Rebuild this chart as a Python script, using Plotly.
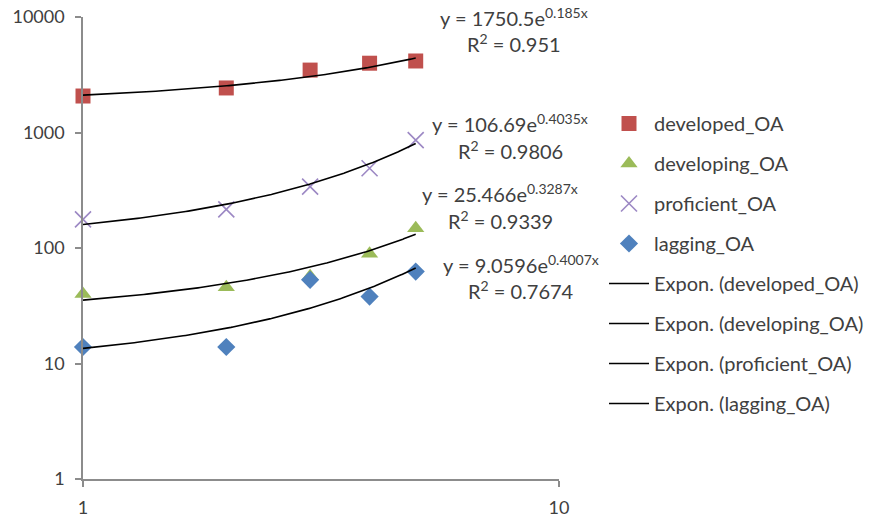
import numpy as np
import plotly.graph_objects as go

x_vals = [1, 2, 3, 4, 5]
developed_OA = [2070, 2430, 3470, 3980, 4160]
developing_OA = [40, 45.7, 57, 89, 148]
proficient_OA = [177, 216, 340, 490, 860]
lagging_OA = [13.9, 13.9, 53, 38, 62.5]

series_names = ["developed_OA", "developing_OA", "proficient_OA", "lagging_OA"]
series_values = [developed_OA, developing_OA, proficient_OA, lagging_OA]
# Excel exponential trendline coefficients y = a * e^(b x)
trend_a = [1750.5, 25.466, 106.69, 9.0596]
trend_b = [0.185, 0.3287, 0.4035, 0.4007]
trend_a_txt = ["1750.5", "25.466", "106.69", "9.0596"]
trend_b_txt = ["0.185", "0.3287", "0.4035", "0.4007"]
r2_txt = ["0.951", "0.9339", "0.9806", "0.7674"]

x_ticks = [1, 10]
y_ticks = [1, 10, 100, 1000, 10000]

colors = ["#C0504D", "#9BBB59", "#9C88C4", "#4F81BD"]
symbols = ["square", "triangle-up", "x-thin", "diamond"]
sizes = [15, 15, 16, 14]

FONT = "Lato"
TXT = "#404040"
FS = 20
TICK_FS = 18

fig = go.Figure()
for i, (name, vals) in enumerate(zip(series_names, series_values)):
    marker = dict(color=colors[i], symbol=symbols[i], size=sizes[i])
    if symbols[i] == "x-thin":
        marker["line"] = dict(color=colors[i], width=1.6)
    fig.add_trace(go.Scatter(
        x=x_vals, y=vals, mode="markers", name=name, marker=marker,
        cliponaxis=False, legendgroup=name, legendrank=i + 1))

xs = np.linspace(x_vals[0], x_vals[-1], 200)
for i, name in enumerate(series_names):
    fig.add_trace(go.Scatter(
        x=xs, y=trend_a[i] * np.exp(trend_b[i] * xs), mode="lines",
        name="Expon. (" + name + ")", line=dict(color="black", width=1.6),
        hoverinfo="skip", legendgroup="t" + name, legendrank=5 + i))

# target plot area in window pixels (body margin removed below)
L, R, T, B = 83, 559, 17, 479
W, H = 879, 523

def px(xp):
    return (xp - L) / (R - L)

def py(yp):
    return (B - yp) / (B - T)

# equation label positions (center x, line1 y, line2 y) in pixels
eq_pos = {
    "developed_OA": (514, 17, 43),
    "proficient_OA": (510, 123, 150),
    "developing_OA": (500, 193, 220),
    "lagging_OA": (521, 264, 290),
}
annotations = []
for i, name in enumerate(series_names):
    cx, y1, y2 = eq_pos[name]
    annotations.append(dict(
        x=px(cx), y=py(y1), xref="paper", yref="paper", showarrow=False,
        xanchor="center", yanchor="middle",
        text="y = " + trend_a_txt[i] + "e<sup>" + trend_b_txt[i] + "x</sup>",
        font=dict(family=FONT, size=FS, color=TXT)))
    annotations.append(dict(
        x=px(cx), y=py(y2), xref="paper", yref="paper", showarrow=False,
        xanchor="center", yanchor="middle",
        text="R<sup>2</sup> = " + r2_txt[i],
        font=dict(family=FONT, size=FS, color=TXT)))

axis_common = dict(
    type="log", showgrid=False, zeroline=False, showline=True,
    linecolor="#8C8C8C", linewidth=1.5, ticks="outside",
    ticklen=6, tickcolor="#8C8C8C", tickwidth=1.5, automargin=False,
    tickfont=dict(family=FONT, size=TICK_FS, color=TXT))

fig.update_layout(
    width=W, height=H,
    margin=dict(l=L, r=W - R, t=T, b=H - B, pad=0, autoexpand=False),
    paper_bgcolor="white", plot_bgcolor="white",
    font=dict(family=FONT, size=FS, color=TXT),
    showlegend=True,
    legend=dict(x=px(604), y=py(104), xanchor="left", yanchor="top",
                traceorder="grouped", tracegroupgap=11,
                font=dict(family=FONT, size=FS, color=TXT),
                bgcolor="rgba(0,0,0,0)", itemwidth=40),
    annotations=annotations,
    xaxis=dict(range=[0, 1], tickvals=x_ticks, ticklabelstandoff=6,
               ticktext=[str(v) for v in x_ticks], **axis_common),
    yaxis=dict(range=[0, 4], tickvals=y_ticks, ticklabelstandoff=7,
               ticktext=[str(v) for v in y_ticks], **axis_common),
)

fig.write_html("out.html",
               config={"displayModeBar": False},
               post_script="document.body.style.margin='0';"
                           "document.body.style.overflow='hidden';")
